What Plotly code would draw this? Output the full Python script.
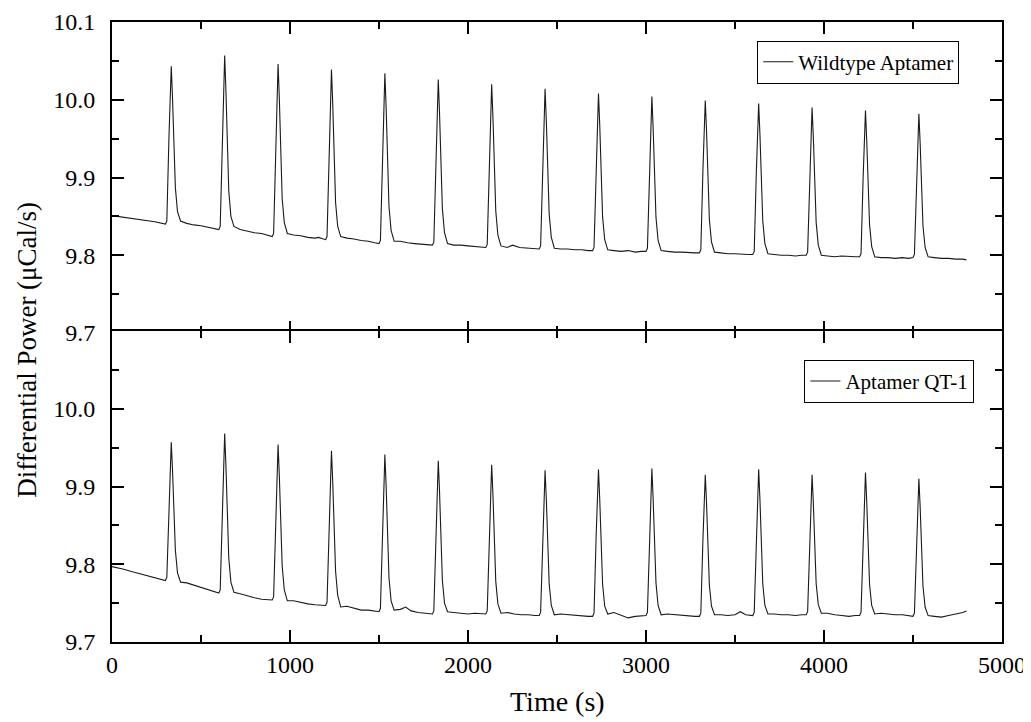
import plotly.graph_objects as go
from plotly.subplots import make_subplots

# ---------------- data ----------------
wild_time = [
    0, 60, 120, 180, 240,
    300, 308, 320, 333, 340, 347, 356, 368, 385, 420, 460, 500, 540, 575,
    600, 608, 620, 633, 640, 647, 656, 668, 685, 720, 760, 800, 840, 875,
    900, 908, 920, 933, 940, 947, 956, 968, 985, 1020, 1060, 1100, 1140, 1160, 1180,
    1200, 1208, 1220, 1233, 1240, 1247, 1256, 1268, 1285, 1320, 1360, 1400, 1440, 1475,
    1500, 1508, 1520, 1533, 1540, 1547, 1556, 1568, 1585, 1620, 1660, 1700, 1740, 1775,
    1800, 1808, 1820, 1833, 1840, 1847, 1856, 1868, 1885, 1920, 1960, 2000, 2040, 2075,
    2100, 2108, 2120, 2133, 2140, 2147, 2156, 2168, 2185, 2220, 2250, 2290, 2340, 2375,
    2400, 2408, 2420, 2433, 2440, 2447, 2456, 2468, 2485, 2520, 2560, 2600, 2640, 2675,
    2700, 2708, 2720, 2733, 2740, 2747, 2756, 2768, 2785, 2820, 2860, 2900, 2940, 2975,
    3000, 3008, 3020, 3033, 3040, 3047, 3056, 3068, 3085, 3120, 3160, 3200, 3240, 3275,
    3300, 3308, 3320, 3333, 3340, 3347, 3356, 3368, 3385, 3420, 3460, 3500, 3540, 3575,
    3600, 3608, 3620, 3633, 3640, 3647, 3656, 3668, 3685, 3720, 3760, 3800, 3840, 3875,
    3900, 3908, 3920, 3933, 3940, 3947, 3956, 3968, 3985, 4020, 4060, 4100, 4140, 4175,
    4200, 4208, 4220, 4233, 4240, 4247, 4256, 4268, 4285, 4320, 4360, 4400, 4440, 4475,
    4500, 4508, 4520, 4533, 4540, 4547, 4556, 4568, 4585, 4620, 4660, 4700, 4740, 4780, 4800,
]
wild_power = [
    9.851, 9.849, 9.847, 9.845, 9.843,
    9.840, 9.844, 9.952, 10.043, 10.002, 9.935, 9.887, 9.856, 9.844, 9.841, 9.839, 9.838, 9.836, 9.835,
    9.833, 9.837, 9.956, 10.057, 10.012, 9.938, 9.883, 9.850, 9.837, 9.833, 9.831, 9.829, 9.828, 9.826,
    9.824, 9.828, 9.946, 10.046, 10.002, 9.928, 9.873, 9.842, 9.828, 9.826, 9.825, 9.823, 9.822, 9.823, 9.821,
    9.820, 9.824, 9.940, 10.039, 9.995, 9.923, 9.868, 9.837, 9.824, 9.822, 9.821, 9.819, 9.818, 9.816,
    9.815, 9.819, 9.935, 10.034, 9.990, 9.918, 9.863, 9.832, 9.818, 9.818, 9.816, 9.815, 9.814, 9.813,
    9.813, 9.817, 9.930, 10.026, 9.983, 9.913, 9.860, 9.829, 9.815, 9.813, 9.813, 9.812, 9.811, 9.811,
    9.810, 9.814, 9.926, 10.020, 9.978, 9.909, 9.857, 9.826, 9.812, 9.810, 9.813, 9.810, 9.809, 9.809,
    9.808, 9.812, 9.921, 10.014, 9.973, 9.905, 9.853, 9.823, 9.809, 9.808, 9.808, 9.807, 9.807, 9.806,
    9.806, 9.810, 9.917, 10.008, 9.968, 9.901, 9.850, 9.820, 9.807, 9.806, 9.805, 9.806, 9.804, 9.805,
    9.805, 9.809, 9.914, 10.004, 9.964, 9.899, 9.849, 9.819, 9.806, 9.805, 9.804, 9.804, 9.803, 9.803,
    9.803, 9.807, 9.911, 9.999, 9.960, 9.895, 9.846, 9.817, 9.804, 9.803, 9.802, 9.802, 9.801, 9.801,
    9.801, 9.805, 9.908, 9.995, 9.956, 9.892, 9.844, 9.815, 9.802, 9.801, 9.800, 9.800, 9.799, 9.800,
    9.800, 9.804, 9.905, 9.990, 9.952, 9.889, 9.842, 9.813, 9.800, 9.799, 9.798, 9.799, 9.798, 9.798,
    9.798, 9.802, 9.901, 9.986, 9.948, 9.886, 9.839, 9.811, 9.798, 9.797, 9.797, 9.796, 9.797, 9.796,
    9.797, 9.801, 9.899, 9.982, 9.945, 9.884, 9.838, 9.810, 9.798, 9.797, 9.796, 9.796, 9.795, 9.795, 9.794,
]

qt1_time = [
    0, 60, 120, 180, 240,
    300, 308, 320, 333, 340, 347, 356, 368, 385, 420, 460, 500, 540, 575,
    600, 608, 620, 633, 640, 647, 656, 668, 685, 720, 760, 800, 840, 875,
    900, 908, 920, 933, 940, 947, 956, 968, 985, 1020, 1060, 1100, 1140, 1175,
    1200, 1208, 1220, 1233, 1240, 1247, 1256, 1268, 1285, 1320, 1360, 1400, 1440, 1475,
    1500, 1508, 1520, 1533, 1540, 1547, 1556, 1568, 1585, 1620, 1650, 1680, 1720, 1760, 1790,
    1800, 1808, 1820, 1833, 1840, 1847, 1856, 1868, 1885, 1920, 1960, 2000, 2040, 2075,
    2100, 2108, 2120, 2133, 2140, 2147, 2156, 2168, 2185, 2220, 2260, 2300, 2340, 2375,
    2400, 2408, 2420, 2433, 2440, 2447, 2456, 2468, 2485, 2520, 2560, 2600, 2640, 2675,
    2700, 2708, 2720, 2733, 2740, 2747, 2756, 2768, 2785, 2820, 2860, 2900, 2940, 2975,
    3000, 3008, 3020, 3033, 3040, 3047, 3056, 3068, 3085, 3120, 3160, 3200, 3240, 3275,
    3300, 3308, 3320, 3333, 3340, 3347, 3356, 3368, 3385, 3420, 3460, 3500, 3530, 3560, 3585,
    3600, 3608, 3620, 3633, 3640, 3647, 3656, 3668, 3685, 3720, 3760, 3800, 3840, 3875,
    3900, 3908, 3920, 3933, 3940, 3947, 3956, 3968, 3985, 4020, 4060, 4100, 4140, 4175,
    4200, 4208, 4220, 4233, 4240, 4247, 4256, 4268, 4285, 4320, 4360, 4400, 4440, 4475,
    4500, 4508, 4520, 4533, 4540, 4547, 4556, 4568, 4585, 4620, 4660, 4700, 4740, 4780, 4800,
]
qt1_power = [
    9.797, 9.794, 9.790, 9.786, 9.783,
    9.779, 9.783, 9.877, 9.957, 9.921, 9.863, 9.818, 9.789, 9.777, 9.776, 9.773, 9.770, 9.767, 9.765,
    9.763, 9.767, 9.876, 9.968, 9.927, 9.859, 9.808, 9.777, 9.764, 9.762, 9.759, 9.757, 9.755, 9.754,
    9.754, 9.758, 9.864, 9.954, 9.914, 9.848, 9.798, 9.767, 9.753, 9.753, 9.751, 9.749, 9.748, 9.747,
    9.747, 9.751, 9.856, 9.946, 9.906, 9.841, 9.791, 9.760, 9.745, 9.746, 9.743, 9.741, 9.741, 9.740,
    9.739, 9.743, 9.850, 9.941, 9.901, 9.834, 9.783, 9.753, 9.741, 9.742, 9.745, 9.740, 9.738, 9.737, 9.736,
    9.736, 9.740, 9.844, 9.933, 9.894, 9.829, 9.779, 9.750, 9.739, 9.738, 9.737, 9.736, 9.737, 9.736,
    9.736, 9.740, 9.842, 9.928, 9.890, 9.826, 9.778, 9.749, 9.737, 9.738, 9.736, 9.735, 9.735, 9.734,
    9.734, 9.738, 9.837, 9.921, 9.884, 9.822, 9.775, 9.747, 9.735, 9.736, 9.735, 9.734, 9.733, 9.733,
    9.733, 9.737, 9.837, 9.922, 9.884, 9.822, 9.775, 9.746, 9.736, 9.738, 9.735, 9.731, 9.733, 9.734,
    9.734, 9.738, 9.838, 9.923, 9.885, 9.823, 9.776, 9.747, 9.735, 9.736, 9.735, 9.734, 9.733, 9.733,
    9.733, 9.737, 9.833, 9.915, 9.879, 9.819, 9.773, 9.746, 9.735, 9.735, 9.734, 9.735, 9.739, 9.735, 9.734,
    9.734, 9.738, 9.837, 9.922, 9.884, 9.822, 9.775, 9.747, 9.736, 9.736, 9.735, 9.735, 9.734, 9.735,
    9.735, 9.739, 9.834, 9.915, 9.879, 9.820, 9.775, 9.748, 9.737, 9.737, 9.735, 9.734, 9.733, 9.734,
    9.734, 9.738, 9.835, 9.918, 9.881, 9.820, 9.774, 9.747, 9.736, 9.737, 9.736, 9.735, 9.735, 9.734,
    9.733, 9.737, 9.830, 9.910, 9.875, 9.816, 9.772, 9.745, 9.734, 9.733, 9.732, 9.734, 9.736, 9.738, 9.740,
]

x_ticks = [0, 1000, 2000, 3000, 4000, 5000]
x_minor = [500, 1500, 2500, 3500, 4500]
top_y_ticks = [9.7, 9.8, 9.9, 10.0, 10.1]
top_y_text = ["9.7", "9.8", "9.9", "10.0", "10.1"]
bottom_y_ticks = [9.7, 9.8, 9.9, 10.0]
bottom_y_text = ["9.7", "9.8", "9.9", "10.0"]
y_minor = [9.75, 9.85, 9.95, 10.05]

# ---------------- figure ----------------
FONT = "Liberation Serif, Times New Roman, serif"

fig = make_subplots(rows=2, cols=1, shared_xaxes=True, vertical_spacing=0)

fig.add_trace(go.Scatter(x=wild_time, y=wild_power, mode="lines", name="Wildtype Aptamer",
                         line=dict(color="#1a1a1a", width=1.1), legend="legend",
                         showlegend=True), row=1, col=1)
fig.add_trace(go.Scatter(x=qt1_time, y=qt1_power, mode="lines", name="Aptamer QT-1",
                         line=dict(color="#1a1a1a", width=1.1), legend="legend2",
                         showlegend=True), row=2, col=1)

axis_common = dict(
    showline=True, linewidth=2, linecolor="black", mirror="allticks",
    ticks="inside", ticklen=12, tickwidth=2, tickcolor="black",
    showgrid=False, zeroline=False, automargin=False,
    tickfont=dict(family=FONT, size=24, color="black"),
)

xkw = dict(axis_common, range=[0, 5000], tickmode="array", tickvals=x_ticks,
           ticktext=[str(v) for v in x_ticks],
           minor=dict(tickmode="array", tickvals=x_minor, ticks="inside", ticklen=7,
                      tickwidth=2, tickcolor="black", showgrid=False))
fig.update_xaxes(**xkw, showticklabels=False, row=1, col=1)
fig.update_xaxes(**xkw, showticklabels=True, ticklabelstandoff=0, row=2, col=1)

ymin = dict(tickmode="array", tickvals=y_minor, ticks="inside", ticklen=7,
            tickwidth=2, tickcolor="black", showgrid=False)
# panels overlap by 2px so that their shared border lines coincide
fig.update_yaxes(**axis_common, range=[9.7, 10.1], tickmode="array", tickvals=top_y_ticks,
                 ticktext=top_y_text, minor=ymin, ticklabelstandoff=10,
                 domain=[0.4984, 1.0], row=1, col=1)
fig.update_yaxes(**axis_common, range=[9.7, 10.1], tickmode="array", tickvals=bottom_y_ticks,
                 ticktext=bottom_y_text, minor=ymin, ticklabelstandoff=10,
                 domain=[0.0, 0.5016], row=2, col=1)

legend_common = dict(bgcolor="white", bordercolor="black", borderwidth=1,
                     font=dict(family=FONT, size=21, color="black"),
                     xanchor="right", yanchor="top", tracegroupgap=0)

# the page body keeps an 8px browser margin, so the figure is 8px smaller
fig.update_layout(
    width=1023, height=714,
    showlegend=True,
    margin=dict(l=104, r=29, t=14, b=80),
    paper_bgcolor="white", plot_bgcolor="white",
    font=dict(family=FONT, color="black"),
    legend=dict(legend_common, x=0.952, y=0.970),
    legend2=dict(legend_common, x=0.969, y=0.455),
    annotations=[
        dict(text="Differential Power (\u03bcCal/s)", xref="paper", yref="paper",
             x=-0.095, y=0.472, textangle=-90, showarrow=False,
             xanchor="center", yanchor="middle",
             font=dict(family=FONT, size=27, color="black")),
        dict(text="Time (s)", xref="paper", yref="paper",
             x=0.5, y=-0.096, showarrow=False, xanchor="center", yanchor="middle",
             font=dict(family=FONT, size=28, color="black")),
    ],
)

fig.write_html("out.html")
